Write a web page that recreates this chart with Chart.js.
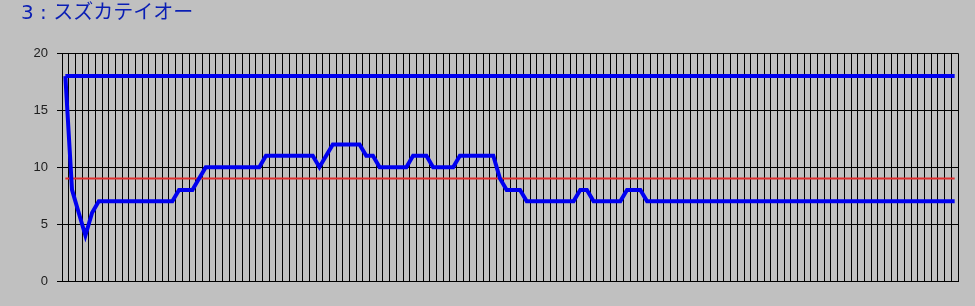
<!DOCTYPE html>
<html>
<head>
<meta charset="utf-8">
<script src="https://cdn.jsdelivr.net/npm/chart.js@4"></script>
<style>
  body { margin: 0; background: #c0c0c0; }
  #chart { display: block; }
</style>
</head>
<body>
<canvas id="chart" width="975" height="306"></canvas>
<script>
/* ── Data ─────────────────────────────────────────────── */
const titleText = '3 : スズカテイオー';
const upperLine = 18;   // flat blue line
const averageLine = 9;  // red line
const yTicks = [0, 5, 10, 15, 20];

const positions = [
  18, 8, 6, 4, 6, 7, 7, 7, 7, 7, 7, 7, 7, 7, 7, 7,
  7, 8, 8, 8, 9, 10, 10, 10, 10, 10, 10, 10, 10, 10,
  11, 11, 11, 11, 11, 11, 11, 11, 10, 11, 12, 12, 12, 12, 12,
  11, 11, 10, 10, 10, 10, 10, 11, 11, 11, 10, 10, 10, 10,
  11, 11, 11, 11, 11, 11, 9, 8, 8, 8,
  7, 7, 7, 7, 7, 7, 7, 7, 8, 8, 7, 7, 7, 7, 7, 8, 8, 8,
  7, 7, 7, 7, 7, 7, 7, 7, 7, 7, 7, 7, 7, 7, 7, 7,
  7, 7, 7, 7, 7, 7, 7, 7, 7, 7, 7, 7, 7, 7, 7, 7,
  7, 7, 7, 7, 7, 7, 7, 7, 7, 7, 7, 7, 7, 7, 7
];
const races = positions.map((_, i) => String(i + 1));

/* ── Chart ─────────────────────────────────────────────── */
const ctx = document.getElementById('chart').getContext('2d');
new Chart(ctx, {
  type: 'line',
  data: {
    labels: races,
    datasets: [
      {
        data: races.map(() => upperLine),
        borderColor: '#0000f0',
        borderWidth: 4,
        pointRadius: 0
      },
      {
        data: positions,
        borderColor: '#0000f0',
        borderWidth: 4,
        pointRadius: 0
      },
      {
        data: races.map(() => averageLine),
        borderColor: '#e03030',
        borderWidth: 2,
        pointRadius: 0
      }
    ]
  },
  options: {
    responsive: false,
    animation: false,
    events: [],
    layout: { padding: { left: 21, right: 17, top: 0, bottom: 25 } },
    plugins: {
      legend: { display: false },
      tooltip: { enabled: false },
      title: {
        display: true,
        text: titleText,
        align: 'start',
        color: '#0a1eb4',
        font: { family: '"DejaVu Sans", "Noto Sans CJK JP", sans-serif', size: 20, weight: 'normal' },
        padding: { top: 2, bottom: 27.3 }
      }
    },
    scales: {
      x: {
        offset: true,
        ticks: { display: false },
        grid: { offset: true, color: '#000', lineWidth: 1, drawTicks: false },
        border: { color: '#000' },
        afterFit: s => { s.height = 0; }
      },
      y: {
        min: 0,
        max: 20,
        afterBuildTicks: s => { s.ticks = yTicks.map(v => ({ value: v })); },
        ticks: {
          color: '#202020',
          padding: 9,
          font: { family: '"Liberation Sans", Arial, sans-serif', size: 13 }
        },
        grid: { color: '#000', lineWidth: 1, tickLength: 5 },
        border: { color: '#000' },
        afterFit: s => { s.width = 41; }
      }
    }
  }
});
</script>
</body>
</html>
